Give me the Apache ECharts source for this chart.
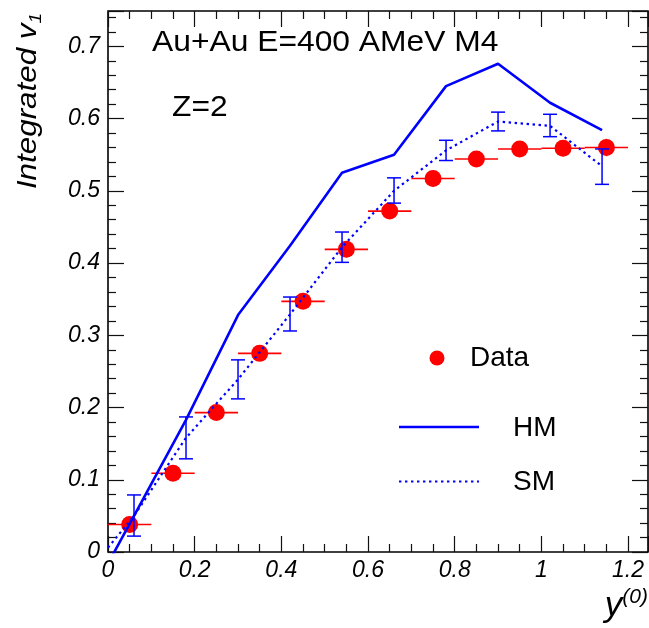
<!DOCTYPE html>
<html>
<head>
<meta charset="utf-8">
<script src="https://cdn.jsdelivr.net/npm/echarts@6/dist/echarts.min.js"></script>
<style>
html,body{margin:0;padding:0;background:#fff;}
#c{width:649px;height:628px;}
</style>
</head>
<body>
<div id="c"></div>
<script>
// ---- data ----
var dataX    = [0.05, 0.15, 0.25, 0.35, 0.45, 0.55, 0.65, 0.75, 0.85, 0.95, 1.05, 1.15];
var dataY    = [0.038, 0.109, 0.193, 0.275, 0.347, 0.419, 0.472, 0.517, 0.544, 0.558, 0.559, 0.560];
var dataXErr = [0.05, 0.05, 0.05, 0.05, 0.05, 0.05, 0.05, 0.05, 0.05, 0.05, 0.05, 0.05];
var dataYErr = [0.008, 0.008, 0.009, 0.009, 0.010, 0.011, 0.011, 0.011, 0.011, 0.011, 0.011, 0.012];

var hmX = [0.00, 0.06, 0.18, 0.30, 0.42, 0.54, 0.66, 0.78, 0.90, 1.02, 1.14];
var hmY = [-0.016, 0.050, 0.183, 0.328, 0.424, 0.525, 0.550, 0.645, 0.676, 0.622, 0.584];

var smX    = [0.00, 0.06, 0.18, 0.30, 0.42, 0.54, 0.66, 0.78, 0.90, 1.02, 1.14];
var smY    = [0.006, 0.050, 0.158, 0.239, 0.329, 0.422, 0.500, 0.556, 0.596, 0.590, 0.534];
var smLow  = [null, 0.022, 0.129, 0.212, 0.306, 0.401, 0.483, 0.542, 0.583, 0.575, 0.509];
var smHigh = [null, 0.079, 0.187, 0.266, 0.353, 0.443, 0.518, 0.570, 0.609, 0.606, 0.558];

var xTickStep = 0.2, yTickStep = 0.1;
var xMin = 0, xMax = 1.246, yMin = 0, yMax = 0.749;

var legendItems = ['Data', 'HM', 'SM'];
var titleText = 'Au+Au E=400 AMeV M4';
var subText = 'Z=2';

// ---- chart ----
var FONT = '"Liberation Sans", Arial, Helvetica, sans-serif';
var chart = echarts.init(document.getElementById('c'), null, {renderer: 'canvas'});

function axisCommon(showLabel, isX) {
  return {
    type: 'value',
    min: isX ? xMin : yMin,
    max: isX ? xMax : yMax,
    interval: isX ? xTickStep : yTickStep,
    splitLine: {show: false},
    axisLine: {show: false, onZero: false},
    axisTick: {show: true, inside: true, length: 16, lineStyle: {color: '#111', width: 1.2}},
    minorTick: {show: true, splitNumber: isX ? 4 : 5, length: 8, lineStyle: {color: '#111', width: 1.2}},
    axisLabel: {
      show: showLabel, showMaxLabel: false, margin: isX ? 7 : 8,
      fontFamily: FONT, fontStyle: 'italic', fontSize: 23, color: '#000'
    }
  };
}

var xAxes = [Object.assign(axisCommon(true, true), {position: 'bottom'}),
             Object.assign(axisCommon(false, true), {position: 'top'})];
var yAxes = [Object.assign(axisCommon(true, false), {position: 'left'}),
             Object.assign(axisCommon(false, false), {position: 'right'})];

var option = {
  animation: false,
  backgroundColor: '#fff',
  grid: {left: 108, top: 11, width: 540, height: 541, show: true,
         borderColor: '#000', borderWidth: 1.6, backgroundColor: 'transparent'},
  xAxis: xAxes,
  yAxis: yAxes,
  series: [
    {
      name: legendItems[0] + ' errors',
      type: 'custom',
      z: 2,
      encode: {x: 0, y: 1},
      data: dataX.map(function (x, i) { return [x, dataY[i], dataXErr[i], dataYErr[i]]; }),
      renderItem: function (params, api) {
        var x = api.value(0), y = api.value(1), ex = api.value(2), ey = api.value(3);
        var l = api.coord([x - ex, y]), r = api.coord([x + ex, y]);
        var b = api.coord([x, y - ey]), t = api.coord([x, y + ey]);
        var st = {stroke: '#ff0000', lineWidth: 1.6};
        return {type: 'group', children: [
          {type: 'line', shape: {x1: l[0], y1: l[1], x2: r[0], y2: r[1]}, style: st},
          {type: 'line', shape: {x1: b[0], y1: b[1], x2: t[0], y2: t[1]}, style: st}
        ]};
      }
    },
    {
      name: legendItems[0],
      type: 'scatter',
      z: 3,
      symbol: 'circle',
      symbolSize: 17,
      itemStyle: {color: '#ff0000', opacity: 1},
      data: dataX.map(function (x, i) { return [x, dataY[i]]; })
    },
    {
      name: legendItems[1],
      type: 'line',
      z: 5,
      showSymbol: false,
      symbol: 'none',
      clip: true,
      lineStyle: {color: '#0000ff', width: 2.6},
      data: hmX.map(function (x, i) { return [x, hmY[i]]; })
    },
    {
      name: legendItems[2],
      type: 'line',
      z: 5,
      showSymbol: false,
      symbol: 'none',
      clip: true,
      lineStyle: {color: '#0000ff', width: 2.2, type: [2.4, 3.6]},
      data: smX.map(function (x, i) { return [x, smY[i]]; })
    },
    {
      name: legendItems[2] + ' errors',
      type: 'custom',
      z: 4,
      encode: {x: 0, y: 1},
      data: smX.map(function (x, i) { return [x, smLow[i], smHigh[i]]; })
               .filter(function (d) { return d[1] !== null; }),
      renderItem: function (params, api) {
        var x = api.value(0), lo = api.value(1), hi = api.value(2);
        var b = api.coord([x, lo]), t = api.coord([x, hi]);
        var w = 7;
        var st = {stroke: '#0000ff', lineWidth: 1.5};
        return {type: 'group', children: [
          {type: 'line', shape: {x1: b[0], y1: b[1], x2: t[0], y2: t[1]}, style: st},
          {type: 'line', shape: {x1: b[0] - w, y1: b[1], x2: b[0] + w, y2: b[1]}, style: st},
          {type: 'line', shape: {x1: t[0] - w, y1: t[1], x2: t[0] + w, y2: t[1]}, style: st}
        ]};
      }
    }
  ],
  graphic: [
    {type: 'text', x: 152, y: 43, z: 10, scaleX: 1.06,
     style: {text: titleText, font: '30px ' + FONT, fill: '#000', align: 'left', verticalAlign: 'middle'}},
    {type: 'text', x: 172, y: 108, z: 10, scaleX: 1.06,
     style: {text: subText, font: '30px ' + FONT, fill: '#000', align: 'left', verticalAlign: 'middle'}},
    // legend
    {type: 'circle', shape: {cx: 437, cy: 358, r: 7.5}, style: {fill: '#ff0000'}, z: 10},
    {type: 'text', x: 470, y: 358, z: 10,
     style: {text: legendItems[0], font: '28px ' + FONT, fill: '#000', align: 'left', verticalAlign: 'middle'}},
    {type: 'line', shape: {x1: 399, y1: 427, x2: 479, y2: 427}, style: {stroke: '#0000ff', lineWidth: 2.6}, z: 10},
    {type: 'text', x: 513, y: 428, z: 10,
     style: {text: legendItems[1], font: '28px ' + FONT, fill: '#000', align: 'left', verticalAlign: 'middle'}},
    {type: 'line', shape: {x1: 399, y1: 481.5, x2: 479, y2: 481.5},
     style: {stroke: '#0000ff', lineWidth: 2.2, lineDash: [2.4, 3.6]}, z: 10},
    {type: 'text', x: 513, y: 482, z: 10,
     style: {text: legendItems[2], font: '28px ' + FONT, fill: '#000', align: 'left', verticalAlign: 'middle'}},
    // axis titles
    {type: 'text', x: 28, y: 101, rotation: Math.PI / 2, scaleX: 1.12, z: 10,
     style: {
       text: '{m|Integrated v}{s|1}', align: 'center', verticalAlign: 'middle',
       rich: {
         m: {fontFamily: FONT, fontStyle: 'italic', fontSize: 28, lineHeight: 34, verticalAlign: 'middle', fill: '#000'},
         s: {fontFamily: FONT, fontStyle: 'italic', fontSize: 17, lineHeight: 34, verticalAlign: 'bottom', fill: '#000'}
       }
     }},
    {type: 'text', x: 648, y: 606, z: 10,
     style: {
       text: '{m|y}{p|(0)}', align: 'right', verticalAlign: 'middle',
       rich: {
         m: {fontFamily: FONT, fontStyle: 'italic', fontSize: 35, lineHeight: 38, verticalAlign: 'middle', fill: '#000'},
         p: {fontFamily: FONT, fontStyle: 'italic', fontSize: 21, lineHeight: 38, verticalAlign: 'top', fill: '#000'}
       }
     }}
  ]
};
chart.setOption(option);
</script>
</body>
</html>
